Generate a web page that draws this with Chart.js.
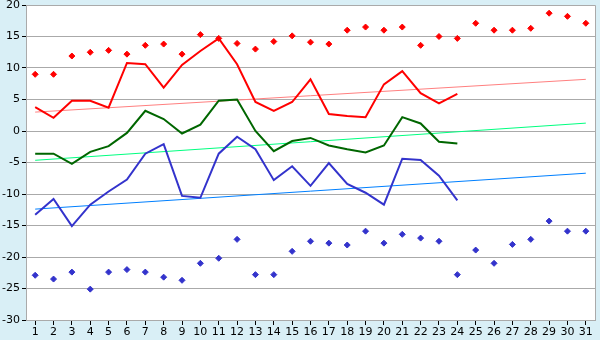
<!DOCTYPE html>
<html><head><meta charset="utf-8">
<script src="https://cdn.jsdelivr.net/npm/chart.js@4/dist/chart.umd.min.js"></script>
<style>html,body{margin:0;padding:0;background:#d9eff6;}#wrap{width:600px;height:340px;}</style>
</head><body><div id="wrap"><canvas id="c" width="600" height="340"></canvas></div>
<script>
const days = Array.from({length:31},(_,i)=>String(i+1));
const maxPoints = [9.0,9.0,11.9,12.5,12.8,12.2,13.6,13.8,12.2,15.3,14.7,13.9,13.0,14.2,15.1,14.1,13.8,16.0,16.5,16.0,16.5,13.6,15.0,14.7,17.1,16.0,16.0,16.3,18.7,18.2,17.1];
const minPoints = [-22.9,-23.5,-22.4,-25.1,-22.4,-22.0,-22.4,-23.2,-23.7,-21.0,-20.2,-17.2,-22.8,-22.8,-19.1,-17.5,-17.8,-18.1,-15.9,-17.8,-16.4,-17.0,-17.5,-22.8,-18.9,-21.0,-18.0,-17.2,-14.3,-15.9,-15.9];
const maxLine = [3.8,2.1,4.8,4.8,3.7,10.8,10.6,6.9,10.5,12.7,14.7,10.6,4.6,3.2,4.6,8.2,2.7,2.4,2.2,7.4,9.5,6.0,4.4,5.9];
const avgLine = [-3.6,-3.6,-5.2,-3.3,-2.4,-0.3,3.2,1.9,-0.4,1.0,4.8,5.0,0.0,-3.2,-1.6,-1.1,-2.3,-2.9,-3.4,-2.3,2.2,1.2,-1.7,-2.0];
const minLine = [-13.3,-10.8,-15.1,-11.7,-9.6,-7.7,-3.6,-2.1,-10.3,-10.6,-3.6,-0.9,-2.9,-7.8,-5.6,-8.7,-5.1,-8.4,-9.8,-11.7,-4.4,-4.6,-7.1,-11.0];
const maxTrendEnds = [3.0, 8.2];
const avgTrendEnds = [-4.65, 1.25];
const minTrendEnds = [-12.4, -6.7];
const yTicks = [20,15,10,5,0,-5,-10,-15,-20,-25,-30];

function ends(e){const a=new Array(31).fill(null);a[0]=e[0];a[30]=e[1];return a;}
function pad(a){return a.concat(new Array(31-a.length).fill(null));}

const bgPlugin = {
  id:'bg',
  beforeDraw(chart){
    const {ctx,chartArea:a}=chart;
    ctx.save();ctx.fillStyle='#ffffff';ctx.fillRect(a.left,a.top,a.right-a.left,a.bottom-a.top);ctx.restore();
  },
  afterDraw(chart){
    const {ctx,chartArea:a}=chart;
    ctx.save();ctx.strokeStyle='#aaaaaa';ctx.lineWidth=1;
    ctx.beginPath();ctx.moveTo(a.left,a.top+0.5);ctx.lineTo(a.right+0.5,a.top+0.5);ctx.lineTo(a.right+0.5,a.bottom);ctx.stroke();
    ctx.restore();
  }
};

new Chart(document.getElementById('c'),{
  type:'line',
  data:{labels:days,datasets:[
    {data:ends(maxTrendEnds),borderColor:'#ff8080',borderWidth:1,pointRadius:0,spanGaps:true,order:5},
    {data:ends(avgTrendEnds),borderColor:'#00ff80',borderWidth:1,pointRadius:0,spanGaps:true,order:5},
    {data:ends(minTrendEnds),borderColor:'#0080ff',borderWidth:1,pointRadius:0,spanGaps:true,order:5},
    {data:pad(maxLine),borderColor:'#ff0000',borderWidth:2,pointRadius:0,order:2},
    {data:pad(avgLine),borderColor:'#006600',borderWidth:2,pointRadius:0,order:2},
    {data:pad(minLine),borderColor:'#3333cc',borderWidth:2,pointRadius:0,order:2},
    {data:maxPoints,showLine:false,pointStyle:'rectRot',pointRadius:3,backgroundColor:'#ff0000',borderColor:'#ff0000',borderWidth:1,order:1},
    {data:minPoints,showLine:false,pointStyle:'rectRot',pointRadius:3,backgroundColor:'#3333cc',borderColor:'#3333cc',borderWidth:1,order:1}
  ]},
  options:{
    responsive:false,animation:false,
    layout:{padding:{top:5,right:5,left:0,bottom:0}},
    plugins:{legend:{display:false},tooltip:{enabled:false}},
    elements:{line:{tension:0}},
    scales:{
      x:{offset:true,
        grid:{drawOnChartArea:false,tickLength:5,tickColor:'#000',offset:false},
        border:{color:'#aaaaaa'},
        ticks:{color:'#000',font:{family:'DejaVu Sans',size:11},padding:1,maxRotation:0,autoSkip:false},
        afterFit(s){s.height=20;s.paddingLeft=0;s.paddingRight=0;}
      },
      y:{min:-30,max:20,
        afterBuildTicks(s){s.ticks=yTicks.map(v=>({value:v}));},
        grid:{color:'#aaaaaa',tickLength:4,tickColor:'#000'},
        border:{color:'#aaaaaa'},
        ticks:{color:'#000',font:{family:'DejaVu Sans',size:11},padding:2},
        afterFit(s){s.width=26;s.paddingTop=0;s.paddingBottom=0;}
      }
    }
  },
  plugins:[bgPlugin]
});
</script></body></html>
